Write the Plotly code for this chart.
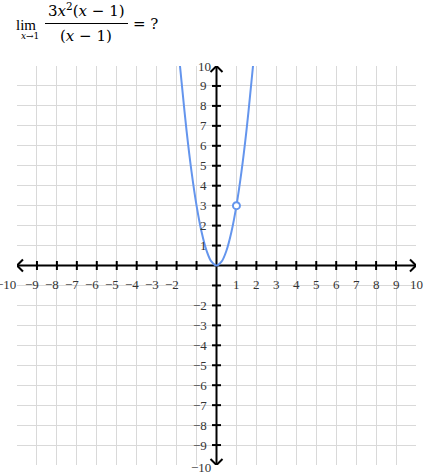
import plotly.graph_objects as go

# ---- data ----
curve_x = [-1.83, -1.75, -1.5, -1.25, -1.0, -0.75, -0.5, -0.25, 0.0,
           0.25, 0.5, 0.75, 1.0, 1.25, 1.5, 1.75, 1.83]
curve_y = [10.0, 9.19, 6.75, 4.69, 3.0, 1.69, 0.75, 0.19, 0.0,
           0.19, 0.75, 1.69, 3.0, 4.69, 6.75, 9.19, 10.0]
hole_x = [1]
hole_y = [3]
x_tick_vals = [-10, -9, -8, -7, -6, -5, -4, -3, -2, 1, 2, 3, 4, 5, 6, 7, 8, 9, 10]
y_tick_vals = [10, 9, 8, 7, 6, 5, 4, 3, 2, 1, -2, -3, -4, -5, -6, -7, -8, -9, -10]
tick_marks = [-9, -8, -7, -6, -5, -4, -3, -2, -1, 1, 2, 3, 4, 5, 6, 7, 8, 9]

W, H = 424, 472
L, T, PW, PH = 17, 66, 399, 399
def px(xp): return (xp - L) / PW
def py(yp): return (T + PH - yp) / PH

BLUE = "#6495ed"
LABEL = "#333333"
FONT = "Liberation Serif"
MFONT = "DejaVu Serif"

def lab(v):
    return ("\u2212" + str(-v)) if v < 0 else str(v)

fig = go.Figure()
fig.add_trace(go.Scatter(x=curve_x, y=curve_y, mode="lines",
                         line=dict(color=BLUE, width=2, shape="spline"),
                         hoverinfo="skip", showlegend=False))
fig.add_trace(go.Scatter(x=hole_x, y=hole_y, mode="markers",
                         marker=dict(size=7, color="white",
                                     line=dict(color=BLUE, width=2)),
                         hoverinfo="skip", showlegend=False))

shapes = []
# axes
shapes.append(dict(type="line", xref="x", yref="y", x0=-10, x1=10, y0=0, y1=0,
                   line=dict(color="black", width=2), layer="between"))
shapes.append(dict(type="line", xref="x", yref="y", x0=0, x1=0, y0=-10, y1=10,
                   line=dict(color="black", width=2), layer="between"))
# tick marks
for v in tick_marks:
    shapes.append(dict(type="line", xref="x", yref="y", x0=v, x1=v,
                       ysizemode="pixel", yanchor=0, y0=-4.5, y1=4.5,
                       line=dict(color="black", width=2), layer="between"))
    shapes.append(dict(type="line", xref="x", yref="y", y0=v, y1=v,
                       xsizemode="pixel", xanchor=0, x0=-4.5, x1=4.5,
                       line=dict(color="black", width=2), layer="between"))
# arrowheads (chevrons)
a, s = 6, 6
for (ax, ay, pts) in [(10, 0, [(-a, s), (-a, -s)]), (-10, 0, [(a, s), (a, -s)]),
                      (0, 10, [(-s, -a), (s, -a)]), (0, -10, [(-s, a), (s, a)])]:
    for (dx, dy) in pts:
        shapes.append(dict(type="line", xref="x", yref="y",
                           xsizemode="pixel", ysizemode="pixel",
                           xanchor=ax, yanchor=ay, x0=dx, y0=dy, x1=0, y1=0,
                           line=dict(color="black", width=2), layer="between"))
# fraction bar of title
shapes.append(dict(type="line", xref="paper", yref="paper",
                   x0=px(45), x1=px(128), y0=py(23.5), y1=py(23.5),
                   line=dict(color="black", width=1)))

ann = []
for v in x_tick_vals:
    if v == -10:
        xa, xs = "right", 1
    elif v < 0:
        xa, xs = "right", 4
    else:
        xa, xs = "center", 0
    ann.append(dict(x=v, y=0, xref="x", yref="y", text=lab(v), showarrow=False,
                    xanchor=xa, yanchor="middle", xshift=xs, yshift=-19,
                    font=dict(family=FONT, size=13, color=LABEL)))
for v in y_tick_vals:
    sh = -4 if abs(v) == 10 else -8
    ysh = -2 if v == -10 else 0
    ann.append(dict(x=0, y=v, xref="x", yref="y", text=lab(v), showarrow=False,
                    xanchor="right", yanchor="middle", xshift=sh, yshift=ysh,
                    font=dict(family=FONT, size=13, color=LABEL)))

# title pieces
ann.append(dict(x=px(25.5), y=py(25), xref="paper", yref="paper", text="lim",
                showarrow=False, xanchor="center", yanchor="middle",
                font=dict(family=FONT, size=15, color="black")))
ann.append(dict(x=px(29.5), y=py(36), xref="paper", yref="paper",
                text="<i>x</i>\u21921", showarrow=False, xanchor="center",
                yanchor="middle", font=dict(family=MFONT, size=9, color="black")))
ann.append(dict(x=px(86.5), y=py(10), xref="paper", yref="paper",
                text="3<i>x</i><sup>2</sup>(<i>x</i> \u2212 1)", showarrow=False,
                xanchor="center", yanchor="middle",
                font=dict(family=MFONT, size=15, color="black")))
ann.append(dict(x=px(86), y=py(36), xref="paper", yref="paper",
                text="(<i>x</i> \u2212 1)", showarrow=False,
                xanchor="center", yanchor="middle",
                font=dict(family=MFONT, size=15, color="black")))
ann.append(dict(x=px(145), y=py(24), xref="paper", yref="paper",
                text="= ?", showarrow=False,
                xanchor="center", yanchor="middle",
                font=dict(family=MFONT, size=15, color="black")))

axis_common = dict(range=[-10, 10], dtick=1, tick0=0, showgrid=True,
                   gridcolor="#d9d9d9", gridwidth=1, zeroline=False,
                   showticklabels=False, showline=False, ticks="", fixedrange=True)
fig.update_layout(
    width=W, height=H,
    margin=dict(l=L, r=W - L - PW, t=T, b=H - T - PH, pad=0),
    paper_bgcolor="white", plot_bgcolor="white",
    xaxis=axis_common, yaxis=axis_common,
    shapes=shapes, annotations=ann, showlegend=False,
)
fig.write_html("out.html", config={"displayModeBar": False},
               post_script="document.body.style.margin='0';document.body.style.overflow='hidden';")
